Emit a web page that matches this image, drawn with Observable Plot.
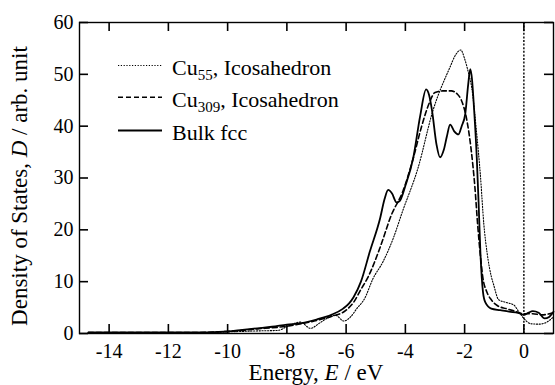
<!DOCTYPE html>
<html><head><meta charset="utf-8">
<script src="https://cdn.jsdelivr.net/npm/d3@7"></script>
<script src="https://cdn.jsdelivr.net/npm/@observablehq/plot@0.6"></script>
<style>body{margin:0;background:#fff} svg{display:block} svg text{font-family:'Liberation Serif','Times New Roman',Times,serif}</style>
</head><body><div id="chart"></div>
<script>
// Tick values
const xTicks = [-14, -12, -10, -8, -6, -4, -2, 0];
const yTicks = [0, 10, 20, 30, 40, 50, 60];

// Series names
const seriesNames = ["Cu55, Icosahedron", "Cu309, Icosahedron", "Bulk fcc"];

// Cu55 icosahedron (dotted)
const cu55E = [-14.7, -13, -11, -10, -9, -8.3, -8, -7.55, -7.2, -6.9, -6.65, -6.35, -6.08, -5.85, -5.64, -5.37, -5.1, -4.75, -4.4, -4.1, -3.57, -3.07, -2.5, -2.3, -2.13, -2.0, -1.88, -1.76, -1.59, -1.47, -1.35, -1.24, -1.1, -1.02, -0.85, -0.6, -0.34, -0.15, 0, 0.22, 0.5, 0.7, 0.9, 1];
const cu55D = [0.1, 0.1, 0.1, 0.3, 0.5, 0.6, 1.3, 2.2, 1.0, 2.0, 2.9, 3.5, 2.4, 3.2, 4.8, 6.8, 10.5, 13.9, 18.5, 23.5, 32, 43, 51.3, 53.8, 54.7, 53, 50.5, 47.4, 38.4, 30.7, 21, 15.5, 11, 9.4, 6.5, 6, 5.5, 4, 2.9, 1.9, 1.8, 2, 2.7, 3.2];

// Cu309 icosahedron (dashed)
const cu309E = [-14.7, -13, -11, -10, -9.5, -9, -8.5, -8, -7.5, -7, -6.5, -6.0, -5.75, -5.5, -5.25, -4.86, -4.47, -4.08, -3.73, -3.45, -3.19, -3.0, -2.74, -2.45, -2.25, -2.11, -1.94, -1.77, -1.65, -1.56, -1.45, -1.39, -1.25, -1.1, -0.9, -0.6, -0.3, 0, 0.3, 0.6, 1];
const cu309D = [0.2, 0.2, 0.2, 0.4, 0.6, 0.9, 1.1, 1.4, 1.9, 2.5, 3.3, 4.5, 6, 8.5, 11, 16.5, 22.9, 27.5, 33.9, 40, 44.5, 46.5, 46.8, 46.8, 46.2, 45, 41.6, 35, 28, 21, 14, 11, 8, 6.5, 5.4, 4.8, 4.3, 3.8, 3.8, 3.6, 4];

// Bulk fcc (solid)
const bulkE = [-14.7, -13, -11, -10.3, -10, -9.5, -9, -8.5, -8, -7.5, -7, -6.5, -6.1, -5.9, -5.75, -5.5, -5.2, -4.85, -4.7, -4.58, -4.45, -4.3, -4.2, -4.0, -3.73, -3.5, -3.3, -3.2, -3.1, -2.95, -2.83, -2.7, -2.6, -2.49, -2.35, -2.21, -2.1, -1.98, -1.88, -1.81, -1.75, -1.7, -1.59, -1.53, -1.47, -1.38, -1.3, -1.1, -0.8, -0.5, -0.2, 0, 0.15, 0.3, 0.5, 0.7, 0.85, 1];
const bulkD = [0.2, 0.2, 0.2, 0.3, 0.4, 0.7, 1.0, 1.3, 1.7, 2.0, 2.7, 3.6, 4.8, 5.8, 7.0, 10, 15.8, 22.3, 26, 27.7, 27, 25.3, 25.5, 28.5, 34, 42, 47.1, 46, 43, 36.5, 34, 35.5, 38, 40.3, 39, 38.4, 40, 42.3, 48, 51, 49, 45, 33.9, 25.5, 16, 8, 6, 4.8, 4.5, 4.2, 4.0, 3.6, 4.0, 4.3, 4.0, 2.9, 3.2, 4.2];

const toRows = (E, D) => E.map((e, i) => ({E: e, D: D[i]}));
const cu55 = toRows(cu55E, cu55D);
const cu309 = toRows(cu309E, cu309D);
const bulk = toRows(bulkE, bulkD);

const W = 555, H = 385;
const mL = 79, mR = 2, mT = 22, mB = 52;
const frameW = W - mL - mR, frameH = H - mT - mB;
const xDomain = [-15, 1], yDomain = [0, 60];
const font = "'Liberation Serif', 'Times New Roman', Times, serif";
const tl = 9; // tick length in pixels
const tlx = tl * (xDomain[1] - xDomain[0]) / frameW;
const tly = tl * (yDomain[1] - yDomain[0]) / frameH;
const tickStyle = {stroke: "black", strokeWidth: 1.6};

const plot = Plot.plot({
  width: W, height: H,
  marginLeft: mL, marginRight: mR, marginTop: mT, marginBottom: mB,
  style: {fontFamily: font, background: "white", color: "black", overflow: "visible"},
  x: {domain: xDomain},
  y: {domain: yDomain},
  marks: [
    Plot.axisX({ticks: xTicks, tickSize: 0, tickPadding: 10, fontSize: 20, fontFamily: font, tickFormat: d => String(d), label: null}),
    Plot.axisY({ticks: yTicks, tickSize: 0, tickPadding: 6, fontSize: 20, fontFamily: font, tickFormat: d => String(d), label: null}),
    Plot.ruleX([0], {stroke: "black", strokeWidth: 1.4, strokeDasharray: "2,1.6"}),
    Plot.line(cu55, {x: "E", y: "D", stroke: "black", strokeWidth: 1.1, strokeDasharray: "1.2,1.6", curve: "monotone-x"}),
    Plot.line(cu309, {x: "E", y: "D", stroke: "black", strokeWidth: 1.6, strokeDasharray: "5,3", curve: "monotone-x"}),
    Plot.line(bulk, {x: "E", y: "D", stroke: "black", strokeWidth: 1.8, curve: "monotone-x"}),
    Plot.frame({stroke: "black", strokeWidth: 1.4}),
    // inward ticks on all four sides
    Plot.ruleX(xTicks, {x: d => d, y1: () => yDomain[0], y2: () => yDomain[0] + tly, ...tickStyle}),
    Plot.ruleX(xTicks, {x: d => d, y1: () => yDomain[1], y2: () => yDomain[1] - tly, ...tickStyle}),
    Plot.ruleY(yTicks, {y: d => d, x1: () => xDomain[0], x2: () => xDomain[0] + tlx, ...tickStyle}),
    Plot.ruleY(yTicks, {y: d => d, x1: () => xDomain[1], x2: () => xDomain[1] - tlx, ...tickStyle})
  ]
});

const svg = d3.select(plot).attr("font-family", font);

// Legend
const legend = [
  {main: "Cu", sub: "55", rest: ", Icosahedron", dash: "1.2,1.6", w: 1.1, base: 75},
  {main: "Cu", sub: "309", rest: ", Icosahedron", dash: "5,3", w: 1.6, base: 106.7},
  {main: "Bulk fcc", sub: "", rest: "", dash: null, w: 1.8, base: 140}
];
const lg = svg.append("g").attr("font-family", font).attr("fill", "black").attr("text-anchor", "start");
legend.forEach(it => {
  lg.append("line").attr("x1", 118).attr("x2", 162).attr("y1", it.base - 9.5).attr("y2", it.base - 9.5)
    .attr("stroke", "black").attr("stroke-width", it.w).attr("stroke-dasharray", it.dash);
  const t = lg.append("text").attr("x", 172).attr("y", it.base).attr("font-size", 22).attr("text-anchor", "start");
  t.append("tspan").text(it.main);
  if (it.sub) {
    t.append("tspan").attr("dy", 5).attr("font-size", 15).text(it.sub);
    t.append("tspan").attr("dy", -5).text(it.rest);
  }
});
// Axis labels
const xl = svg.append("text").attr("x", mL + frameW / 2).attr("y", 380).attr("text-anchor", "middle")
  .attr("font-family", font).attr("font-size", 23).attr("fill", "black");
xl.append("tspan").text("Energy, ");
xl.append("tspan").attr("font-style", "italic").text("E");
xl.append("tspan").text(" / eV");
const yl = svg.append("text").attr("transform", "translate(27,186) rotate(-90)").attr("text-anchor", "middle")
  .attr("font-family", font).attr("font-size", 23).attr("fill", "black");
yl.append("tspan").text("Density of States, ");
yl.append("tspan").attr("font-style", "italic").text("D");
yl.append("tspan").text(" / arb. unit");

document.getElementById("chart").appendChild(plot);
</script>
</body></html>
